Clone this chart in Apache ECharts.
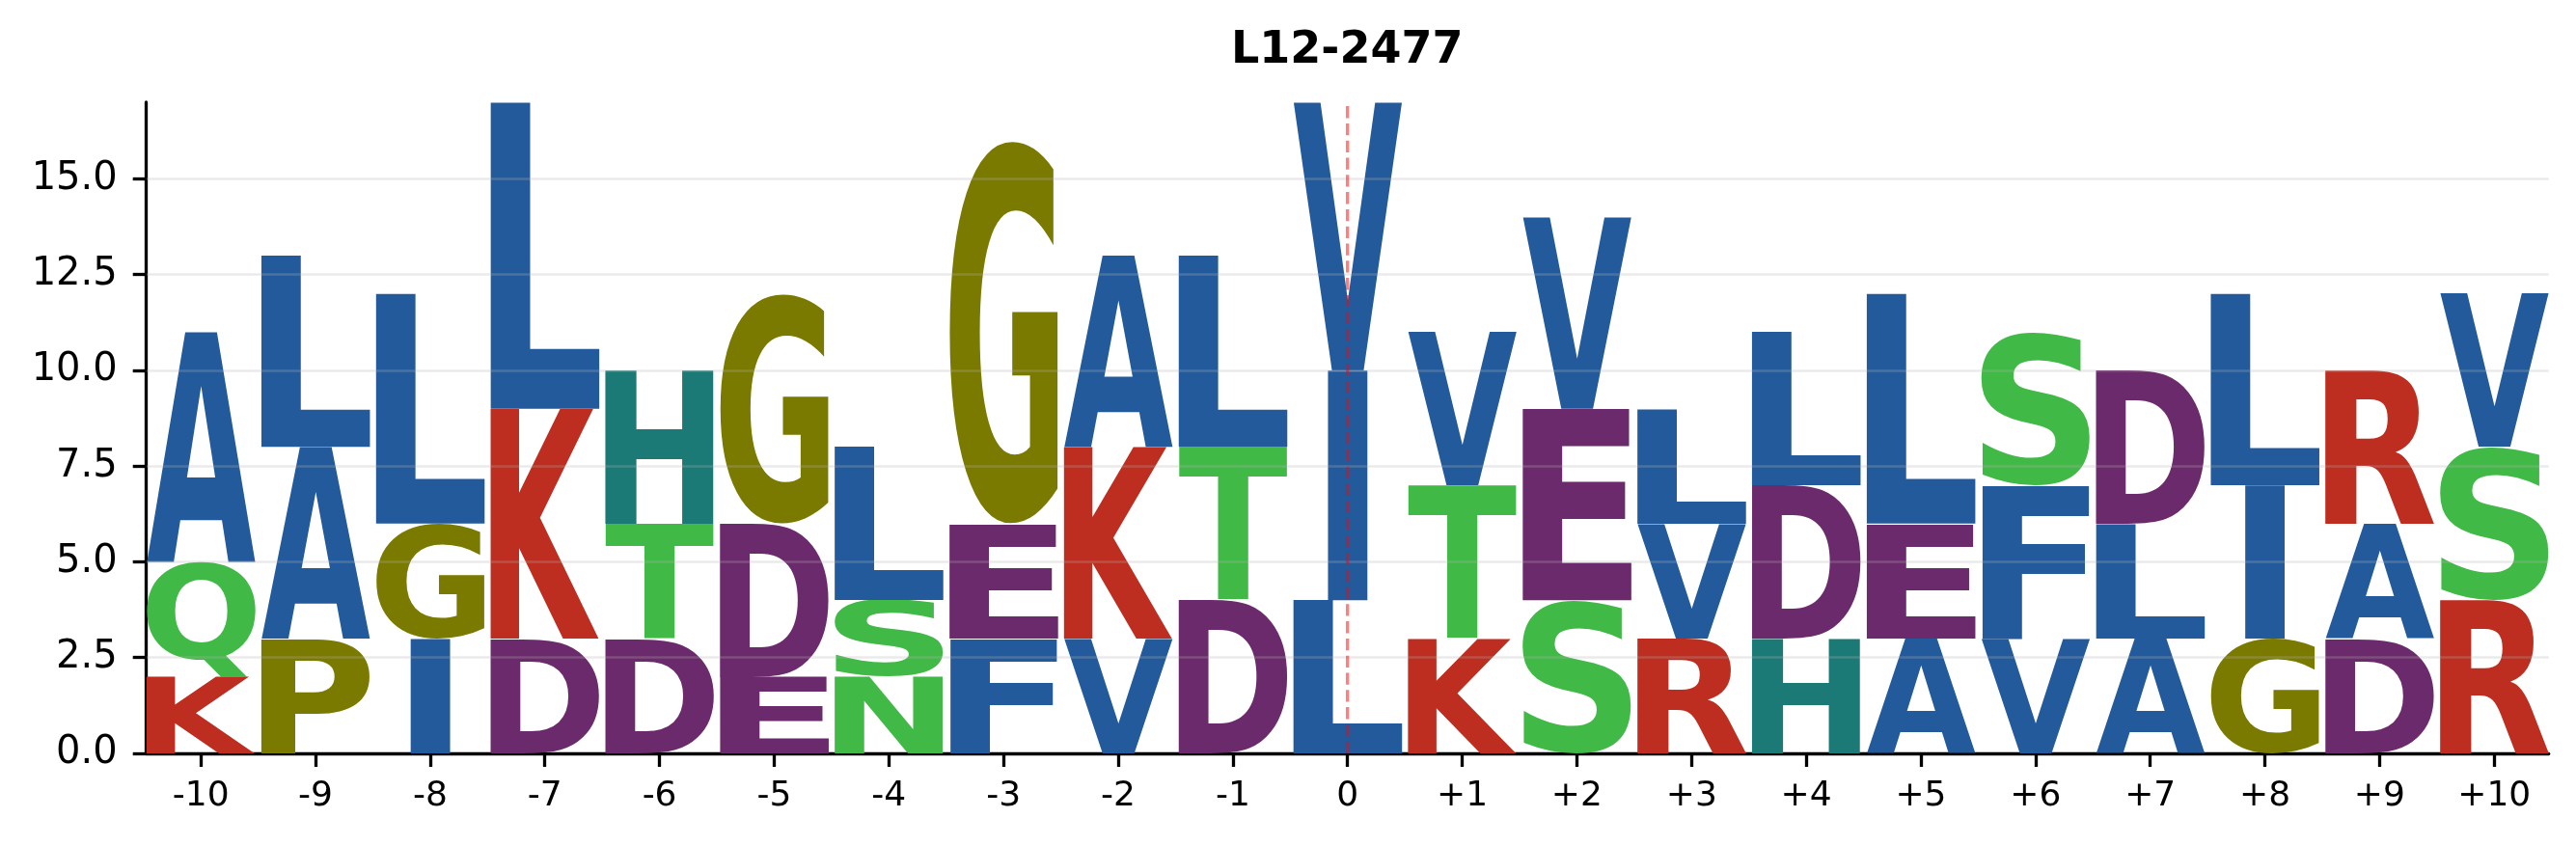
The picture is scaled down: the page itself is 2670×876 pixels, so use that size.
<!DOCTYPE html>
<html>
<head>
<meta charset="utf-8">
<script src="https://cdn.jsdelivr.net/npm/echarts@6/dist/echarts.min.js"></script>
<style>
html,body{margin:0;padding:0;background:#ffffff;}
#chart{width:2670px;height:876px;}
</style>
</head>
<body>
<div id="chart"></div>
<script>
// ---------------- data ----------------
const chartTitle = 'L12-2477';
const positions = [-10,-9,-8,-7,-6,-5,-4,-3,-2,-1,0,1,2,3,4,5,6,7,8,9,10];
const xTickLabels = ['-10','-9','-8','-7','-6','-5','-4','-3','-2','-1','0','+1','+2','+3','+4','+5','+6','+7','+8','+9','+10'];
const yTicks = [0, 2.5, 5, 7.5, 10, 12.5, 15];
const yTickLabels = ['0.0','2.5','5.0','7.5','10.0','12.5','15.0'];
const centerPosition = 0;

// stacks, bottom -> top
const bottomLetters = ['K','P','I','D','D','E','N','F','V','D','L','K','S','R','H','A','V','A','G','D','R'];
const bottomValues  = [ 2,  3,  3,  3,  3,  2,  2,  3,  3,  4,  4,  3,  4,  3,  3,  3,  3,  3,  3,  3,  4 ];
const middleLetters = ['Q','A','G','K','T','D','S','E','K','T','I','T','E','V','D','E','F','L','I','A','S'];
const middleValues  = [ 3,  5,  3,  6,  3,  4,  2,  3,  5,  4,  6,  4,  5,  3,  4,  3,  4,  3,  4,  3,  4 ];
const topLetters    = ['A','L','L','L','H','G','L','G','A','L','V','V','V','L','L','L','S','D','L','R','V'];
const topValues     = [ 6,  5,  6,  8,  4,  6,  4, 10,  5,  5,  7,  4,  5,  3,  4,  6,  4,  4,  5,  4,  4 ];

// ---------------- styles ----------------
const BLUE = '#235a9c', RED = '#bd2e20', OLIVE = '#7b7a00', GREEN = '#41b947', PURPLE = '#6b2a6b', TEAL = '#1b7a76';
const colorOf = {
  A: BLUE, L: BLUE, I: BLUE, V: BLUE, F: BLUE, M: BLUE, W: BLUE,
  K: RED, R: RED,
  G: OLIVE, P: OLIVE,
  Q: GREEN, T: GREEN, S: GREEN, N: GREEN, Y: GREEN, C: GREEN,
  D: PURPLE, E: PURPLE,
  H: TEAL
};
const HALF_W = 0.475;
const Y_MAX = 17;
const FONT_PX = 200;
const FONT = 'bold ' + FONT_PX + 'px "DejaVu Sans"';

// build stacked glyph records
const glyphLetters = [];
const glyphData = [];
const layers = [[bottomLetters, bottomValues], [middleLetters, middleValues], [topLetters, topValues]];
positions.forEach(function (p, i) {
  let base = 0;
  layers.forEach(function (layer) {
    const v = layer[1][i];
    glyphData.push([p, base, base + v]);
    glyphLetters.push(layer[0][i]);
    base += v;
  });
});

// ink metrics of glyphs
const mctx = document.createElement('canvas').getContext('2d');
const inkCache = {};
function inkBox(ch) {
  if (inkCache[ch]) return inkCache[ch];
  mctx.font = FONT;
  mctx.textAlign = 'left';
  mctx.textBaseline = 'middle';
  const m = mctx.measureText(ch);
  const r = { l: m.actualBoundingBoxLeft, r: m.actualBoundingBoxRight, a: m.actualBoundingBoxAscent, d: m.actualBoundingBoxDescent };
  inkCache[ch] = r;
  return r;
}

function renderLetter(params, api) {
  const pos = api.value(0), y0 = api.value(1), y1 = api.value(2);
  const ch = glyphLetters[params.dataIndex];
  const p0 = api.coord([pos - HALF_W, y1]);
  const p1 = api.coord([pos + HALF_W, y0]);
  const boxW = p1[0] - p0[0];
  const boxH = p1[1] - p0[1];
  const ink = inkBox(ch), inkE = inkBox('E');
  const wCh = ink.l + ink.r, wE = inkE.l + inkE.r;
  const sx = Math.min(boxW / wCh, boxW / wE);
  const drawnW = wCh * sx;
  const left = p0[0] + (boxW - drawnW) / 2;
  const sy = boxH / (ink.a + ink.d);
  return {
    type: 'text',
    x: left + ink.l * sx,
    y: p0[1] + ink.a * sy,
    scaleX: sx,
    scaleY: sy,
    silent: true,
    style: {
      text: ch,
      font: FONT,
      fill: colorOf[ch] || '#000',
      align: 'left',
      verticalAlign: 'middle',
      textAlign: 'left',
      textVerticalAlign: 'middle'
    }
  };
}

const chart = echarts.init(document.getElementById('chart'), null, { renderer: 'canvas', width: 2670, height: 876 });
const option = {
  animation: false,
  backgroundColor: '#ffffff',
  title: {
    text: chartTitle,
    left: 1271,
    top: 25,
    textStyle: { fontFamily: 'DejaVu Sans', fontWeight: 'bold', fontSize: 46, color: '#000000' }
  },
  grid: { left: 151.7, right: 28.3, top: 106, bottom: 95, containLabel: false },
  xAxis: {
    type: 'value',
    min: -10 - HALF_W,
    max: 10 + HALF_W,
    splitLine: { show: false },
    axisLine: { show: true, onZero: false, lineStyle: { color: '#000', width: 3.3 } },
    axisTick: { show: true, customValues: positions, length: 14, lineStyle: { color: '#000', width: 3.3 } },
    axisLabel: {
      show: true,
      customValues: positions,
      formatter: function (v) { const i = positions.indexOf(Math.round(v)); return i >= 0 ? xTickLabels[i] : ''; },
      fontFamily: 'DejaVu Sans', fontSize: 36, color: '#000', margin: 27
    }
  },
  yAxis: {
    type: 'value',
    min: 0,
    max: Y_MAX,
    splitLine: { show: false },
    axisLine: { show: true, onZero: false, lineStyle: { color: '#000', width: 3.3 } },
    axisTick: { show: true, customValues: yTicks, length: 14, lineStyle: { color: '#000', width: 3.3 } },
    axisLabel: {
      show: true,
      customValues: yTicks,
      formatter: function (v) { const i = yTicks.indexOf(v); return i >= 0 ? yTickLabels[i] : ''; },
      fontFamily: 'DejaVu Sans', fontSize: 40, color: '#000', margin: 30
    }
  },
  series: [
    {
      type: 'custom',
      name: 'logo',
      z: 2,
      clip: false,
      silent: true,
      renderItem: renderLetter,
      data: glyphData
    },
    {
      type: 'line',
      name: 'grid',
      z: 5,
      data: [],
      silent: true,
      markLine: {
        silent: true,
        symbol: ['none', 'none'],
        label: { show: false },
        emphasis: { disabled: true },
        lineStyle: { color: 'rgba(176,176,176,0.27)', width: 2.5, type: 'solid' },
        data: yTicks.filter(function (v) { return v > 0; }).map(function (v) { return { yAxis: v }; })
      }
    },
    {
      type: 'line',
      name: 'center',
      z: 6,
      silent: true,
      symbol: 'none',
      showSymbol: false,
      data: [[centerPosition, 0], [centerPosition, Y_MAX]],
      lineStyle: { color: 'rgba(255,0,0,0.5)', width: 3.4, type: [12.3, 5.5] },
      emphasis: { disabled: true }
    }
  ]
};
chart.setOption(option);
</script>
</body>
</html>
